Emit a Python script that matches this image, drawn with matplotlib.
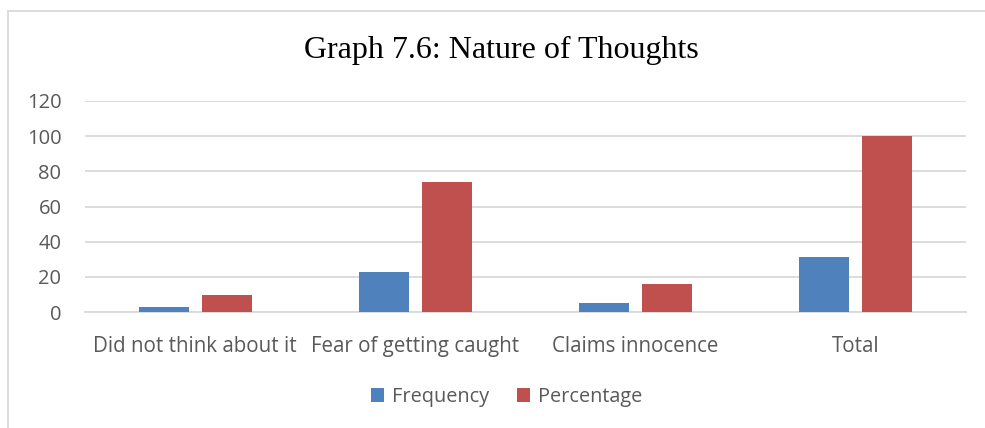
import matplotlib
matplotlib.use("Agg")
import matplotlib.pyplot as plt
import numpy as np
from matplotlib.patches import Rectangle

categories = ["Did not think about it", "Fear of getting caught", "Claims innocence", "Total"]
frequency = [3, 23, 5, 31]
percentage = [9.68, 74.19, 16.13, 100]
yticks = [0, 20, 40, 60, 80, 100, 120]

W, H = 985, 428
fig = plt.figure(figsize=(W/100, H/100), dpi=100)
ax = fig.add_axes([85/W, 1-312/H, (966-85)/W, (312-101)/H])

x = np.arange(len(categories))
bw = 0.227
off = 0.143
ax.bar(x - off, frequency, bw, color="#4f81bd", label="Frequency", zorder=3)
ax.bar(x + off, percentage, bw, color="#c0504d", label="Percentage", zorder=3)

ax.set_xlim(-0.5, len(categories) - 0.5)
ax.set_ylim(0, 120)
ax.set_yticks(yticks)
ax.yaxis.grid(True, color="#d9d9d9", linewidth=1.3, zorder=0)
for s in ["top", "right", "left"]:
    ax.spines[s].set_visible(False)
ax.spines["bottom"].set_color("#d9d9d9")
ax.spines["bottom"].set_linewidth(1.3)
ax.tick_params(axis="both", length=0, labelcolor="#595959")
ax.tick_params(axis="y", pad=17, labelsize=14.5)
ax.set_xticks(x)
ax.set_xticklabels(categories, fontfamily="Open Sans", fontsize=14.8)
for t in ax.get_yticklabels():
    t.set_fontfamily("Open Sans")
ax.tick_params(axis="x", pad=17)

fig.text(501/W, 1 - 50/H, "Graph 7.6: Nature of Thoughts",
         ha="center", va="center", fontsize=23, fontfamily="Liberation Serif", color="black")

leg = fig.legend(loc="center", bbox_to_anchor=(507/W, 1 - 397/H), ncol=2, frameon=False,
                 prop={"family": "Open Sans", "size": 14.3}, handlelength=0.65, handleheight=0.65,
                 columnspacing=1.4, handletextpad=0.4)
for t in leg.get_texts():
    t.set_color("#595959")

fig.patches.append(Rectangle((8/W, -0.1), 1.2, 1 - 11/H + 0.1, transform=fig.transFigure,
                             fill=False, edgecolor="#d9d9d9", linewidth=1.3))

fig.savefig("out.png", dpi=100)
